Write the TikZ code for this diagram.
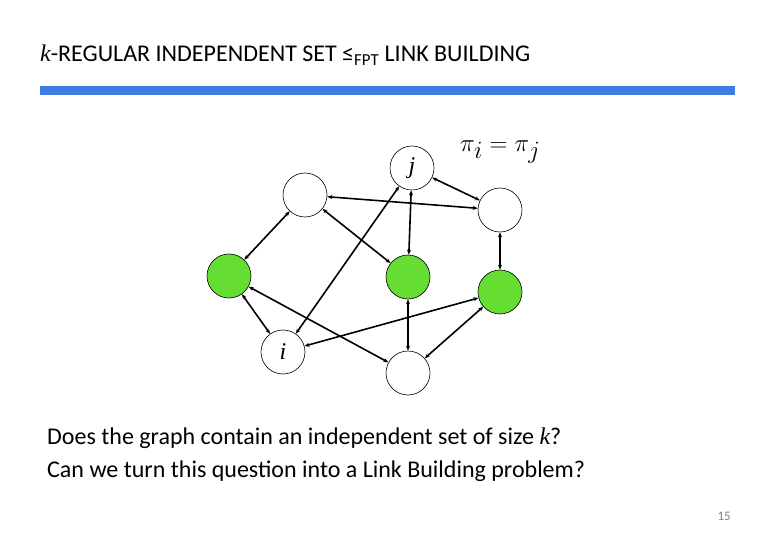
\documentclass[tikz,border=0pt]{standalone}
\usepackage{fontspec}
\setmainfont{Carlito}
\newfontfamily\tms{Liberation Serif}
\usetikzlibrary{arrows.meta}
\begin{document}
\begin{tikzpicture}[x=1pt,y=-1pt,
  vtx/.style={circle,draw=black,line width=0.6pt,minimum size=44pt,inner sep=0pt,fill=white},
  grn/.style={vtx,fill={rgb,255:red,102;green,221;blue,51}},
  edge/.style={line width=1.6pt,{Stealth[length=5pt,width=4pt]}-{Stealth[length=5pt,width=4pt]}}]
\useasboundingbox (0,0) rectangle (780,540);
\node[anchor=base west,font=\fontsize{24}{26}\selectfont,inner sep=0] (title) at (40,62) {{\tms\itshape k}-REGULAR INDEPENDENT SET ≤\textsubscript{FPT} LINK BUILDING};
\fill[fill={rgb,255:red,61;green,125;blue,226}] (40,86) rectangle (735,95);
\node[vtx] (j) at (412,168) {\fontsize{24}{26}\selectfont\tms\itshape j};
\node[vtx] (a) at (305,195) {};
\node[vtx] (b) at (500,210) {};
\node[grn] (g1) at (229,276) {};
\node[grn] (g2) at (408,277) {};
\node[grn] (g3) at (500,292) {};
\node[vtx] (i) at (283,352) {\fontsize{24}{26}\selectfont\tms\itshape i};
\node[vtx] (c) at (408,373) {};
\node[anchor=west,inner sep=0] (pi) at (460,152) {\fontsize{34}{36}\selectfont$\pi_i=\pi_j$};
\draw[edge] (j) -- (b);
\draw[edge] (a) -- (b);
\draw[edge] (j) -- (i);
\draw[edge] (j) -- (g2);
\draw[edge] (a) -- (g1);
\draw[edge] (a) -- (g2);
\draw[edge] (b) -- (g3);
\draw[edge] (g1) -- (i);
\draw[edge] (g1) -- (c);
\draw[edge] (g3) -- (i);
\draw[edge] (g2) -- (c);
\draw[edge] (g3) -- (c);
\node[anchor=base west,font=\fontsize{24}{26}\selectfont,inner sep=0] (q1) at (47,444) {Does the graph contain an independent set of size {\tms\itshape k}?};
\node[anchor=base west,font=\fontsize{24}{26}\selectfont,inner sep=0] (q2) at (47,477) {Can we turn this question into a Link Building problem?};
\node[anchor=base east,font=\fontsize{13}{15}\selectfont,text=gray,inner sep=0] (pg) at (731,520) {15};
\end{tikzpicture}
\end{document}
